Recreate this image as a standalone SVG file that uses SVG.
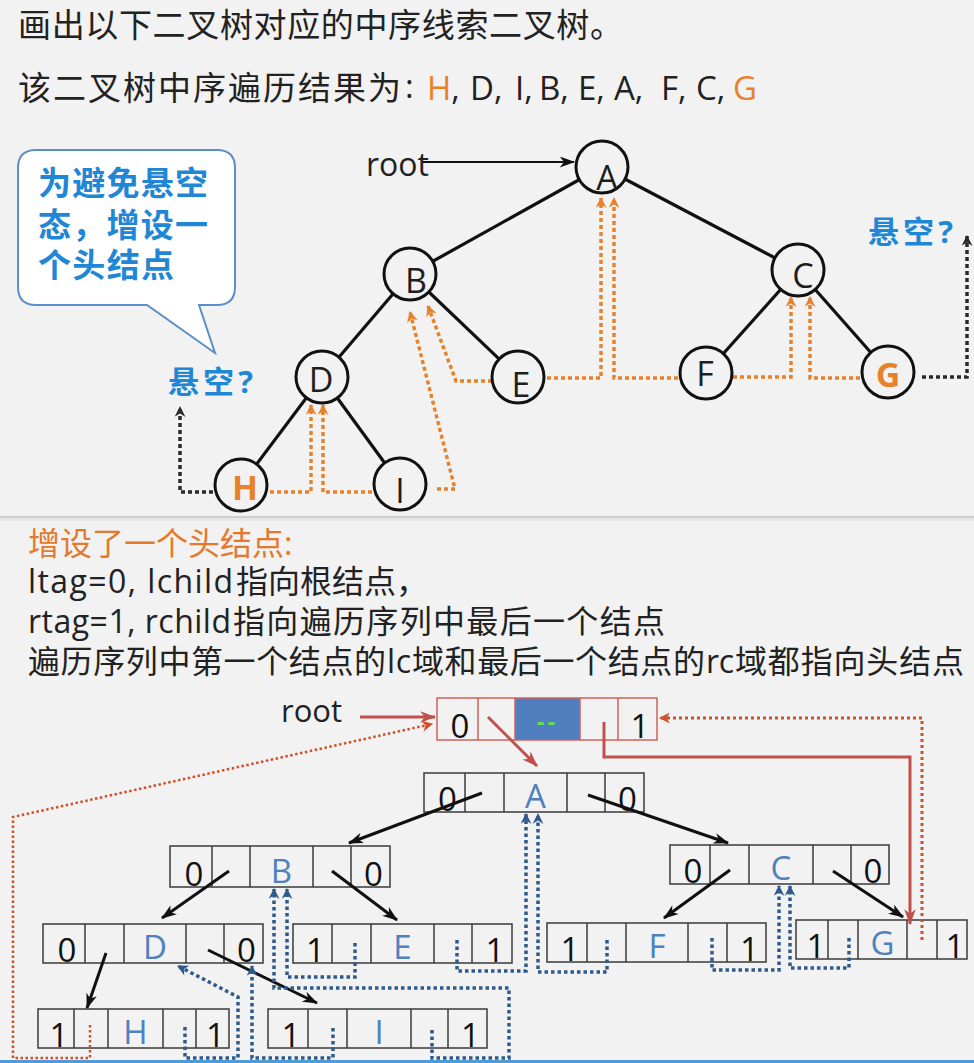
<svg xmlns="http://www.w3.org/2000/svg" width="974" height="1063" viewBox="0 0 974 1063">
<defs>
<style>
.t{font-family:"Open Sans","Noto Sans CJK SC",sans-serif;fill:#222}
.bl{font-family:"Open Sans","Noto Sans CJK SC",sans-serif;font-weight:bold;fill:#1f87d6}
.nd circle{fill:#f2f2f2;stroke:#111;stroke-width:3}
.nd text{font-family:"Open Sans",sans-serif;font-size:34px;fill:#1e1e1e;text-anchor:middle}
.nd text.hl{fill:#e8822a;font-weight:bold}
.edge{stroke:#111;stroke-width:3.2;fill:none}
.tho{stroke:#e8822a;stroke-width:3.5;stroke-dasharray:4 3;fill:none}
.thk{stroke:#2a2a2a;stroke-width:3.5;stroke-dasharray:4 3;fill:none}
.box rect.o{fill:none;stroke:#3a3a3a;stroke-width:1.5}
.box line{stroke:#3a3a3a;stroke-width:1.5}
.hd rect.o,.hd line{stroke:#d0605a}
.tg{font-family:"Open Sans",sans-serif;font-size:33px;fill:#111;text-anchor:middle}
.dt{font-family:"Open Sans",sans-serif;font-size:33px;fill:#4f81bd;text-anchor:middle}
.ptr{stroke:#111;stroke-width:3;fill:none}
.thn{stroke:#2f5a8c;stroke-width:3.5;stroke-dasharray:3.5 3;fill:none}
.red{stroke:#c0504d;stroke-width:3;fill:none}
.redd{stroke:#d0502a;stroke-width:2.5;stroke-dasharray:2.5 2.5;fill:none}
</style>
<marker id="mK" viewBox="0 0 14 10" refX="13" refY="5" markerWidth="16" markerHeight="11" markerUnits="userSpaceOnUse" orient="auto"><path d="M0,0 L14,5 L0,10 L4,5 Z" fill="#111"/></marker>
<marker id="mO" viewBox="0 0 10 10" refX="9" refY="5" markerWidth="13" markerHeight="11" markerUnits="userSpaceOnUse" orient="auto"><path d="M0,0 L10,5 L0,10 L3,5 Z" fill="#e8822a"/></marker>
<marker id="mD" viewBox="0 0 10 10" refX="9" refY="5" markerWidth="13" markerHeight="11" markerUnits="userSpaceOnUse" orient="auto"><path d="M0,0 L10,5 L0,10 L3,5 Z" fill="#2a2a2a"/></marker>
<marker id="mN" viewBox="0 0 10 10" refX="9" refY="5" markerWidth="13" markerHeight="11" markerUnits="userSpaceOnUse" orient="auto"><path d="M0,0 L10,5 L0,10 L3,5 Z" fill="#2f5a8c"/></marker>
<marker id="mR" viewBox="0 0 14 10" refX="13" refY="5" markerWidth="16" markerHeight="12" markerUnits="userSpaceOnUse" orient="auto"><path d="M0,0 L14,5 L0,10 L4,5 Z" fill="#c0504d"/></marker>
<marker id="mRd" viewBox="0 0 10 10" refX="9" refY="5" markerWidth="13" markerHeight="11" markerUnits="userSpaceOnUse" orient="auto"><path d="M0,0 L10,5 L0,10 L3,5 Z" fill="#d0502a"/></marker>
</defs>

<rect x="0" y="0" width="974" height="1063" fill="#f2f2f2"/>
<rect x="0" y="516" width="974" height="2" fill="#cfcfcf"/>
<rect x="0" y="518" width="974" height="3" fill="#e6e6e6"/>
<rect x="0" y="1060" width="974" height="3" fill="#4f9ad8"/>

<!-- heading texts -->
<text class="t" x="18" y="37" font-size="33" textLength="605">画出以下二叉树对应的中序线索二叉树。</text>
<text class="t" x="18" y="100" font-size="33" textLength="383">该二叉树中序遍历结果为</text>
<text class="t" x="405" y="98" font-size="33">:</text>
<text class="t" y="100" font-size="33"><tspan x="427" fill="#e8822a">H</tspan><tspan>,</tspan><tspan x="470">D,</tspan><tspan x="515">I,</tspan><tspan x="539">B,</tspan><tspan x="578">E,</tspan><tspan x="614">A,</tspan><tspan x="661">F,</tspan><tspan x="696">C,</tspan><tspan x="733" fill="#e8822a">G</tspan></text>

<!-- speech bubble -->
<g id="bubble">
<path d="M36,150 H217 Q235,150 235,168 V287 Q235,305 217,305 H199 L215,353 L147,305 H36 Q18,305 18,287 V168 Q18,150 36,150 Z" fill="#ffffff" stroke="#5b8fc9" stroke-width="2"/>
<text class="bl" x="38" y="195" font-size="33" textLength="170">为避免悬空</text>
<text class="bl" x="38" y="237" font-size="33" textLength="170">态，增设一</text>
<text class="bl" x="38" y="277" font-size="33" textLength="136">个头结点</text>
</g>
<text class="bl" x="168" y="393" font-size="31" textLength="85">悬空?</text>
<text class="bl" x="868" y="243" font-size="31" textLength="85">悬空?</text>
<text class="t" x="366" y="176" font-size="32">root</text>

<!-- tree connectors -->
<g id="tree-connectors">
<line class="edge" x1="602" y1="167" x2="410" y2="274"/>
<line class="edge" x1="602" y1="167" x2="798" y2="270"/>
<line class="edge" x1="410" y1="274" x2="322" y2="377"/>
<line class="edge" x1="410" y1="274" x2="518" y2="377"/>
<line class="edge" x1="322" y1="377" x2="241" y2="485"/>
<line class="edge" x1="322" y1="377" x2="400" y2="484"/>
<line class="edge" x1="798" y1="270" x2="706" y2="373"/>
<line class="edge" x1="798" y1="270" x2="888" y2="372"/>
<path d="M423,162 H574" stroke="#111" stroke-width="2" fill="none" marker-end="url(#mK)"/>
<path class="tho" d="M270,492 H311 V405" marker-end="url(#mO)"/>
<path class="tho" d="M372,492 H323 V405" marker-end="url(#mO)"/>
<path class="tho" d="M437,489 H455 L410,312" marker-end="url(#mO)"/>
<path class="tho" d="M492,381 H456 L428,306" marker-end="url(#mO)"/>
<path class="tho" d="M547,378 H601 V198" marker-end="url(#mO)"/>
<path class="tho" d="M678,378 H614 V198" marker-end="url(#mO)"/>
<path class="tho" d="M733,377 H791 V297" marker-end="url(#mO)"/>
<path class="tho" d="M860,378 H810 V297" marker-end="url(#mO)"/>
<path class="thk" d="M213,492 H180 V407" marker-end="url(#mD)"/>
<path class="thk" d="M922,377 H967 V236" marker-end="url(#mD)"/>
</g>

<!-- tree nodes -->
<g id="node-A" class="nd"><circle cx="602" cy="167" r="26"/><text x="607" y="190">A</text></g>
<g id="node-B" class="nd"><circle cx="410" cy="274" r="26"/><text x="416" y="293">B</text></g>
<g id="node-C" class="nd"><circle cx="798" cy="270" r="26"/><text x="803" y="288">C</text></g>
<g id="node-D" class="nd"><circle cx="322" cy="377" r="26"/><text x="321" y="392">D</text></g>
<g id="node-E" class="nd"><circle cx="518" cy="377" r="26"/><text x="521" y="397">E</text></g>
<g id="node-F" class="nd"><circle cx="706" cy="373" r="26"/><text x="705" y="386">F</text></g>
<g id="node-G" class="nd"><circle cx="888" cy="372" r="26"/><text class="hl" x="888" y="387">G</text></g>
<g id="node-H" class="nd"><circle cx="241" cy="485" r="26"/><text class="hl" x="245" y="500">H</text></g>
<g id="node-I" class="nd"><circle cx="400" cy="484" r="26"/><text x="400" y="503">I</text></g>

<!-- explanation texts -->
<text class="t" x="28" y="555" font-size="32" style="fill:#e4792c">增设了一个头结点:</text>
<text class="t" x="28" y="593" font-size="32" textLength="205">ltag=0, lchild</text>
<text class="t" x="236" y="593" font-size="32" textLength="192">指向根结点，</text>
<text class="t" x="28" y="633" font-size="32" textLength="203">rtag=1, rchild</text>
<text class="t" x="233" y="633" font-size="32" textLength="432">指向遍历序列中最后一个结点</text>
<text class="t" x="28" y="673" font-size="32" textLength="358">遍历序列中第一个结点的</text>
<text class="t" x="387" y="673" font-size="32" textLength="24">lc</text>
<text class="t" x="412" y="673" font-size="32" textLength="293">域和最后一个结点的</text>
<text class="t" x="706" y="673" font-size="32" textLength="28">rc</text>
<text class="t" x="735" y="673" font-size="32" textLength="229">域都指向头结点</text>
<text class="t" x="281" y="722" font-size="31">root</text>

<!-- linked storage nodes -->
<g id="box-head" class="box hd">
<rect x="515" y="698" width="65" height="42" fill="#4f7fbf"/>
<rect class="o" x="437" y="698" width="220" height="42"/>
<line x1="478" y1="698" x2="478" y2="740"/><line x1="515" y1="698" x2="515" y2="740"/><line x1="580" y1="698" x2="580" y2="740"/><line x1="618" y1="698" x2="618" y2="740"/>
<text class="tg" x="460" y="738">0</text>
<text x="547.5" y="730" font-family="Open Sans, sans-serif" font-size="24" font-weight="bold" fill="#66dd55" text-anchor="middle" letter-spacing="3">--</text>
<text class="tg" x="640" y="738">1</text>
</g>
<g id="box-A" class="box">
<rect class="o" x="424" y="773" width="220" height="39"/>
<line x1="465" y1="773" x2="465" y2="812"/><line x1="504" y1="773" x2="504" y2="812"/><line x1="567" y1="773" x2="567" y2="812"/><line x1="605" y1="773" x2="605" y2="812"/>
<text class="tg" x="447.5" y="811">0</text><text class="dt" x="535.5" y="808">A</text><text class="tg" x="627.5" y="811">0</text>
</g>
<g id="box-B" class="box">
<rect class="o" x="170" y="846" width="220" height="41"/>
<line x1="212" y1="846" x2="212" y2="887"/><line x1="250" y1="846" x2="250" y2="887"/><line x1="313" y1="846" x2="313" y2="887"/><line x1="351" y1="846" x2="351" y2="887"/>
<text class="tg" x="194" y="886">0</text><text class="dt" x="281.5" y="883">B</text><text class="tg" x="373.5" y="886">0</text>
</g>
<g id="box-C" class="box">
<rect class="o" x="670" y="845" width="219" height="39"/>
<line x1="710" y1="845" x2="710" y2="884"/><line x1="749" y1="845" x2="749" y2="884"/><line x1="813" y1="845" x2="813" y2="884"/><line x1="851" y1="845" x2="851" y2="884"/>
<text class="tg" x="693" y="883">0</text><text class="dt" x="781" y="880">C</text><text class="tg" x="873" y="883">0</text>
</g>
<g id="box-D" class="box">
<rect class="o" x="43" y="924" width="220" height="39"/>
<line x1="85" y1="924" x2="85" y2="963"/><line x1="124" y1="924" x2="124" y2="963"/><line x1="186" y1="924" x2="186" y2="963"/><line x1="224" y1="924" x2="224" y2="963"/>
<text class="tg" x="67" y="962">0</text><text class="dt" x="155" y="959">D</text><text class="tg" x="246.5" y="962">0</text>
</g>
<g id="box-E" class="box">
<rect class="o" x="293" y="924" width="219" height="39"/>
<line x1="332" y1="924" x2="332" y2="963"/><line x1="371" y1="924" x2="371" y2="963"/><line x1="434" y1="924" x2="434" y2="963"/><line x1="472" y1="924" x2="472" y2="963"/>
<text class="tg" x="315.5" y="962">1</text><text class="dt" x="402.5" y="959">E</text><text class="tg" x="495" y="962">1</text>
</g>
<g id="box-F" class="box">
<rect class="o" x="547" y="923" width="219" height="39"/>
<line x1="587" y1="923" x2="587" y2="962"/><line x1="626" y1="923" x2="626" y2="962"/><line x1="688" y1="923" x2="688" y2="962"/><line x1="727" y1="923" x2="727" y2="962"/>
<text class="tg" x="570" y="961">1</text><text class="dt" x="657" y="958">F</text><text class="tg" x="749.5" y="961">1</text>
</g>
<g id="box-G" class="box">
<rect class="o" x="796" y="920" width="171" height="39"/>
<line x1="828" y1="920" x2="828" y2="959"/><line x1="858" y1="920" x2="858" y2="959"/><line x1="907" y1="920" x2="907" y2="959"/><line x1="937" y1="920" x2="937" y2="959"/>
<text class="tg" x="816" y="958">1</text><text class="dt" x="882.5" y="955">G</text><text class="tg" x="955" y="958">1</text>
</g>
<g id="box-H" class="box">
<rect class="o" x="38" y="1009" width="191" height="39"/>
<line x1="74" y1="1009" x2="74" y2="1048"/><line x1="108" y1="1009" x2="108" y2="1048"/><line x1="163" y1="1009" x2="163" y2="1048"/><line x1="196" y1="1009" x2="196" y2="1048"/>
<text class="tg" x="59" y="1047">1</text><text class="dt" x="135.5" y="1044">H</text><text class="tg" x="215.5" y="1047">1</text>
</g>
<g id="box-I" class="box">
<rect class="o" x="268" y="1009" width="219" height="39"/>
<line x1="308" y1="1009" x2="308" y2="1048"/><line x1="347" y1="1009" x2="347" y2="1048"/><line x1="411" y1="1009" x2="411" y2="1048"/><line x1="448" y1="1009" x2="448" y2="1048"/>
<text class="tg" x="291" y="1047">1</text><text class="dt" x="379" y="1044">I</text><text class="tg" x="470.5" y="1047">1</text>
</g>

<!-- storage connectors -->
<g id="connectors">
<path class="red" d="M360,717 H435" marker-end="url(#mR)"/>
<path class="red" d="M488,717 L537,766" marker-end="url(#mR)"/>
<path class="red" d="M604,722 V757 H910 V924" marker-end="url(#mR)"/>
<path class="redd" d="M90,1025 V1058 H13 V817 L432,724" marker-end="url(#mRd)"/>
<path class="redd" style="stroke-width:3;stroke-dasharray:3 3" d="M922,940 V718 H660" marker-end="url(#mRd)"/>
<path class="ptr" d="M482,793 L349,843" marker-end="url(#mK)"/>
<path class="ptr" d="M588,795 L728,843" marker-end="url(#mK)"/>
<path class="ptr" d="M229,871 L162,918" marker-end="url(#mK)"/>
<path class="ptr" d="M332,871 L397,920" marker-end="url(#mK)"/>
<path class="ptr" d="M730,870 L664,918" marker-end="url(#mK)"/>
<path class="ptr" d="M833,871 L903,917" marker-end="url(#mK)"/>
<path class="ptr" d="M106,953 L87,1008" marker-end="url(#mK)"/>
<path class="ptr" d="M208,950 L317,1003" marker-end="url(#mK)"/>
<path class="thn" d="M185,1027 V1058 H238 V997 L178,966" marker-end="url(#mN)"/>
<path class="thn" d="M333,1028 V1058 H252 V966" marker-end="url(#mN)"/>
<path class="thn" d="M432,1030 V1058 H509 V988 H274 V889" marker-end="url(#mN)"/>
<path class="thn" d="M355,943 V977 H287 V889" marker-end="url(#mN)"/>
<path class="thn" d="M457,940 V971 H526 V814" marker-end="url(#mN)"/>
<path class="thn" d="M607,940 V972 H538 V814" marker-end="url(#mN)"/>
<path class="thn" d="M712,938 V970 H779 V886" marker-end="url(#mN)"/>
<path class="thn" d="M849,938 V968 H790 V886" marker-end="url(#mN)"/>
</g>
</svg>
